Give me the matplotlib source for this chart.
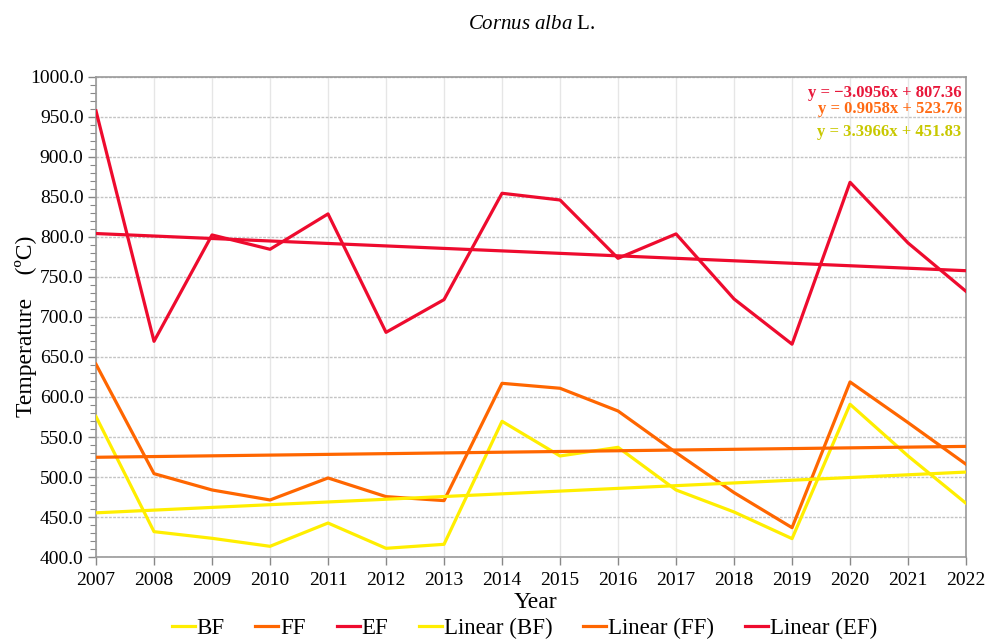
import matplotlib.pyplot as plt
import numpy as np
from matplotlib.ticker import MultipleLocator, FormatStrFormatter

plt.rcParams['font.family'] = ['Liberation Serif', 'DejaVu Serif']
plt.rcParams['mathtext.fontset'] = 'custom'
plt.rcParams['mathtext.it'] = 'Liberation Serif:italic'
plt.rcParams['mathtext.rm'] = 'Liberation Serif'

years = list(range(2007, 2023))
bf = [575.5, 431.7, 423.4, 413.4, 442.5, 410.9, 415.9, 569.6,
      526.3, 537.1, 483.8, 456.3, 423.0, 590.9, 526.3, 467.1]
ff = [640.9, 504.2, 483.8, 471.3, 498.8, 475.5, 470.5, 617.1,
      610.9, 582.5, 530.5, 480.5, 436.7, 618.8, 568.0, 515.9]
ef = [957.5, 669.6, 802.5, 784.6, 828.8, 680.8, 721.7, 854.6,
      846.2, 773.3, 803.8, 722.5, 666.0, 868.3, 792.5, 732.0]

# trendline coefficients (slope, intercept) with x = 1..16
trend_bf = (3.3966, 451.83)
trend_ff = (0.9058, 523.76)
trend_ef = (-3.0956, 807.36)

c_bf = '#FFEE00'
c_ff = '#FF6600'
c_ef = '#EE0B2E'

fig = plt.figure(figsize=(9.95, 6.41), dpi=100)
ax = fig.add_axes([0.0965, 0.131, 0.8744, 0.749])

x = np.array(years)
idx = np.arange(1, len(years) + 1)
lw = 2.3
ax.plot(x, bf, color=c_bf, lw=lw, label='BF', zorder=3)
ax.plot(x, ff, color=c_ff, lw=lw, label='FF', zorder=3)
ax.plot(x, ef, color=c_ef, lw=lw, label='EF', zorder=3)
ax.plot(x, trend_bf[0] * idx + trend_bf[1], color=c_bf, lw=lw, label='Linear (BF)', zorder=3)
ax.plot(x, trend_ff[0] * idx + trend_ff[1], color=c_ff, lw=lw, label='Linear (FF)', zorder=3)
ax.plot(x, trend_ef[0] * idx + trend_ef[1], color=c_ef, lw=lw, label='Linear (EF)', zorder=3)

ax.set_xlim(2007, 2022)
ax.set_ylim(400, 1000)
ax.set_xticks(years)
ax.yaxis.set_major_locator(MultipleLocator(50))
ax.yaxis.set_minor_locator(MultipleLocator(10))
ax.yaxis.set_major_formatter(FormatStrFormatter('%.1f'))
ax.tick_params(axis='both', which='major', labelsize=14, color='#888888', length=6, width=1)
ax.tick_params(axis='y', which='minor', color='#888888', length=4, width=0.8)
ax.tick_params(axis='x', pad=5)
ax.tick_params(axis='y', pad=3)

ax.grid(axis='x', color='#E6E6E6', lw=1, linestyle='-')
ax.grid(axis='y', which='major', color='#C4C4C4', lw=1, linestyle=(0, (2, 1)))
ax.set_axisbelow(True)
for s in ax.spines.values():
    s.set_color('#999999')
    s.set_linewidth(1.2)

ax.set_xlabel('Year', fontsize=17)
ax.xaxis.set_label_coords(0.505, -0.073)
ax.set_ylabel('Temperature    (ºC)', fontsize=17)
ax.yaxis.set_label_coords(-0.068, 0.48)

fig.text(0.534, 0.962, r'$\it{Cornus\ alba}$ L.', ha='center', va='center', fontsize=15)

ax.text(0.995, 0.983, 'y = \u22123.0956x + 807.36', transform=ax.transAxes, ha='right', va='top',
        color='#E8173A', fontsize=12, fontweight='bold')
ax.text(0.995, 0.949, 'y = 0.9058x + 523.76', transform=ax.transAxes, ha='right', va='top',
        color='#FF6A13', fontsize=12, fontweight='bold')
ax.text(0.995, 0.901, 'y = 3.3966x + 451.83', transform=ax.transAxes, ha='right', va='top',
        color='#C8C800', fontsize=12, fontweight='bold')

fig.legend(loc='center', bbox_to_anchor=(0.527, 0.02), ncol=6, frameon=False, fontsize=16.5,
           handlelength=1.0, handletextpad=0.08, columnspacing=1.35, borderaxespad=0)

plt.savefig('out.png', dpi=100)
